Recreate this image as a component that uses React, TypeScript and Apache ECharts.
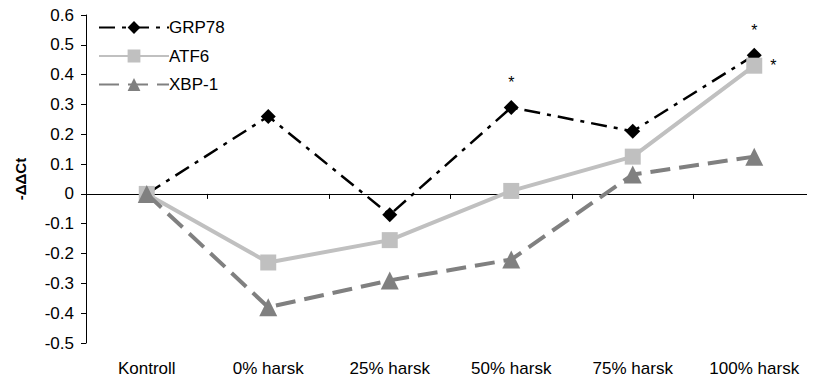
import React, { useEffect, useRef } from "react";
import * as echarts from "echarts";

// Relative expression of ER stress markers (-ΔΔCt) per treatment group
const categories = ["Kontroll", "0% harsk", "25% harsk", "50% harsk", "75% harsk", "100% harsk"];
const grp78 = [0, 0.26, -0.07, 0.29, 0.21, 0.465];
const atf6 = [0, -0.23, -0.155, 0.01, 0.125, 0.43];
const xbp1 = [0, -0.38, -0.29, -0.22, 0.065, 0.125];
// Points marked as significant: [series, category index]
const significant: Array<[string, number]> = [
  ["GRP78", 3],
  ["GRP78", 5],
  ["ATF6", 5],
];

const FONT = "Liberation Sans, Arial, sans-serif";

function withStars(name: string, values: number[], position: string) {
  return values.map((v, i) =>
    significant.some(([s, idx]) => s === name && idx === i)
      ? {
          value: v,
          label: {
            show: true,
            position,
            formatter: "*",
            color: "#000",
            fontSize: 16,
            fontFamily: FONT,
            distance: position === "right" ? 8 : 9,
          },
        }
      : v
  );
}

export default function App() {
  const ref = useRef<HTMLDivElement>(null);

  useEffect(() => {
    if (!ref.current) return;
    const chart = echarts.init(ref.current, null, { renderer: "svg" });
    chart.setOption({
      animation: false,
      backgroundColor: "#fff",
      textStyle: { fontFamily: FONT },
      grid: { left: 86, right: 0, top: 15, bottom: 45 },
      legend: {
        orient: "vertical",
        left: 93,
        top: 14,
        itemWidth: 70,
        itemHeight: 16,
        itemGap: 11.5,
        textStyle: { fontSize: 17, color: "#000", fontFamily: FONT, padding: [0, 0, 0, -5] },
        data: ["GRP78", "ATF6", "XBP-1"],
      },
      xAxis: [
        {
          type: "category",
          data: categories,
          boundaryGap: true,
          axisLine: { onZero: true, lineStyle: { color: "#000", width: 1 } },
          axisTick: { show: true, length: 5, lineStyle: { color: "#000" } },
          axisLabel: { show: false },
          splitLine: { show: false },
        },
        {
          type: "category",
          data: categories,
          position: "bottom",
          boundaryGap: true,
          axisLine: { show: false, onZero: false },
          axisTick: { show: false },
          axisLabel: { show: true, color: "#000", fontSize: 17, fontFamily: FONT, margin: 17 },
          splitLine: { show: false },
        },
      ],
      yAxis: {
        type: "value",
        min: -0.5,
        max: 0.6,
        interval: 0.1,
        name: "-ΔΔCt",
        nameLocation: "middle",
        nameGap: 58,
        nameTextStyle: { fontSize: 15, fontWeight: "bold", color: "#000", fontFamily: FONT },
        axisLine: { show: true, lineStyle: { color: "#000" } },
        axisTick: { show: true, length: 5, lineStyle: { color: "#000" } },
        axisLabel: {
          color: "#000",
          fontSize: 17,
          fontFamily: FONT,
          margin: 12,
          formatter: (v: number) => {
            const r = Math.round(v * 10) / 10;
            return r === 0 ? "0" : r.toFixed(1);
          },
        },
        splitLine: { show: false },
      },
      series: [
        {
          name: "GRP78",
          type: "line",
          data: withStars("GRP78", grp78, "top"),
          symbol: "diamond",
          symbolSize: 15,
          color: "#000",
          itemStyle: { color: "#000" },
          lineStyle: { color: "#000", width: 2.5, type: [16, 7, 4, 7] },
          z: 2,
        },
        {
          name: "ATF6",
          type: "line",
          data: withStars("ATF6", atf6, "right"),
          symbol: "rect",
          symbolSize: 16,
          color: "#c0c0c0",
          itemStyle: { color: "#c0c0c0" },
          lineStyle: { color: "#c0c0c0", width: 4, type: "solid" },
          z: 3,
        },
        {
          name: "XBP-1",
          type: "line",
          data: xbp1,
          symbol: "triangle",
          symbolSize: 18,
          color: "#808080",
          itemStyle: { color: "#808080" },
          lineStyle: { color: "#808080", width: 4, type: [20, 9] },
          z: 4,
        },
      ],
    });
    return () => chart.dispose();
  }, []);

  return <div ref={ref} style={{ width: 815, height: 388, marginLeft: -8, marginTop: -8 }} />;
}
